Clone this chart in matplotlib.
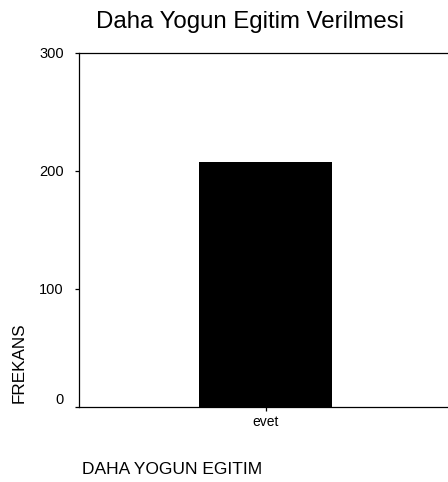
import matplotlib.pyplot as plt

plt.rcParams['font.family'] = ['Liberation Sans', 'DejaVu Sans']

categories = ['evet']
counts = [208]
yticks = [0, 100, 200, 300]

fig = plt.figure(figsize=(4.48, 4.82), dpi=100)
ax = fig.add_axes([79 / 448, 75 / 482, 373 / 448, 354 / 482])

ax.bar(range(len(categories)), counts, width=0.5, color='black')
ax.set_xlim(-0.7, 0.7)
ax.set_ylim(0, 300)
ax.set_yticks(yticks)
ax.set_xticks(range(len(categories)))
ax.set_xticklabels(categories)

for s in ['left', 'bottom', 'top']:
    ax.spines[s].set_linewidth(0.9)
    ax.spines[s].set_color('black')
ax.spines['right'].set_visible(False)

ax.tick_params(axis='y', length=3, width=0.9, pad=8, labelsize=10.5)
ax.tick_params(axis='x', length=3, width=0.9, pad=3, labelsize=10)
ax.get_yticklabels()[0].set_va('bottom')

fig.text(250 / 448, 1 - 28 / 482, 'Daha Yogun Egitim Verilmesi', ha='center', va='baseline', fontsize=17.3)
fig.text(19 / 448, 1 - 363 / 482, 'FREKANS', rotation=90, ha='center', va='center', fontsize=12.3)
fig.text(82 / 448, 1 - 474 / 482, 'DAHA YOGUN EGITIM', ha='left', va='baseline', fontsize=12.5)

fig.savefig('out.png', dpi=100)
